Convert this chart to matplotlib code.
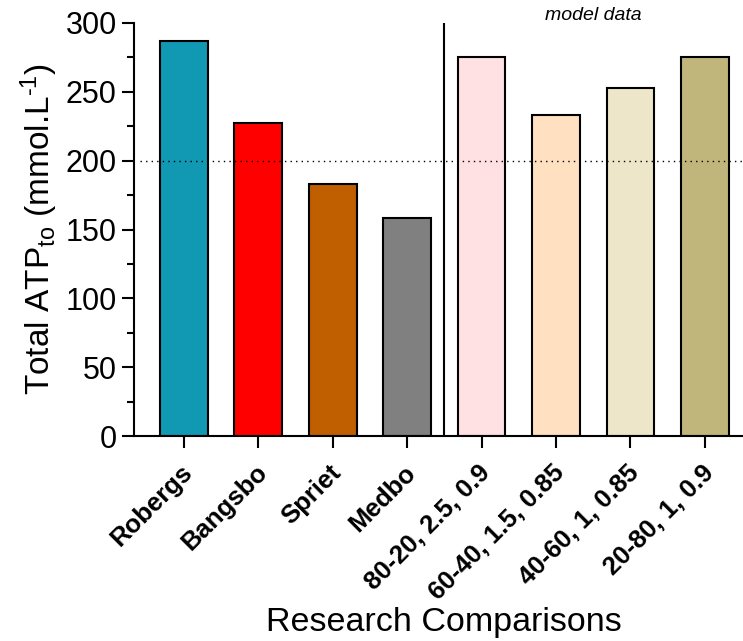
import matplotlib
matplotlib.use("Agg")
import matplotlib.pyplot as plt
from matplotlib.ticker import MultipleLocator
from matplotlib.transforms import ScaledTranslation

plt.rcParams['font.family'] = ['Liberation Sans', 'DejaVu Sans']
plt.rcParams['mathtext.fontset'] = 'custom'
plt.rcParams['mathtext.rm'] = 'Liberation Sans'
plt.rcParams['mathtext.it'] = 'Liberation Sans:italic'
plt.rcParams['mathtext.bf'] = 'Liberation Sans:bold'

categories = ["Robergs", "Bangsbo", "Spriet", "Medbo",
              "80-20, 2.5, 0.9", "60-40, 1.5, 0.85", "40-60, 1, 0.85", "20-80, 1, 0.9"]
values = [287, 227, 183, 158, 275, 233, 252.5, 275]
colors = ["#1199B4", "#FF0000", "#BF5F00", "#808080",
          "#FFE0E3", "#FFE0C0", "#EDE6C8", "#C0B67C"]
reference_level = 200
yticks = [0, 50, 100, 150, 200, 250, 300]

fig = plt.figure(figsize=(7.43, 6.41), dpi=100)
ax = fig.add_axes([134/743, 1-436/641, (742-134)/743, (436-23)/641])

x = list(range(len(categories)))
ax.bar(x, values, width=0.64, color=colors, edgecolor='black', linewidth=1.5, zorder=2)

ax.axhline(reference_level, color='black', linestyle=(0, (1, 3)), linewidth=1.0, zorder=3,
           xmin=0.01)
ax.axvline(3.5, color='black', linewidth=1.5, zorder=3)

ax.set_xlim(-0.67, 7.5)
ax.set_ylim(0, 300)
ax.set_yticks(yticks)
ax.yaxis.set_minor_locator(MultipleLocator(25))
ax.set_xticks(x)
ax.set_xticklabels([])
offset = ScaledTranslation(5/100, -33/100, fig.dpi_scale_trans)
for xi, lab in zip(x, categories):
    ax.text(xi, 0, lab, transform=ax.get_xaxis_transform() + offset,
            rotation=45, ha='right', va='center', rotation_mode='anchor',
            fontweight='bold', fontsize=18.5)

for s in ['top', 'right']:
    ax.spines[s].set_visible(False)
for s in ['left', 'bottom']:
    ax.spines[s].set_linewidth(1.5)

ax.tick_params(axis='both', which='major', length=8.5, width=1.5)
ax.tick_params(axis='y', which='major', labelsize=22, pad=4)
ax.tick_params(axis='y', which='minor', length=5, width=1.5)
ax.tick_params(axis='x', which='minor', bottom=False)

ax.set_ylabel(r"Total ATP$_{\mathrm{to}}$ (mmol.L$^{\text{-1}}$)", fontsize=24, labelpad=4)
fig.text(444/743, 1-622/641, "Research Comparisons", fontsize=24.5, ha='center', va='center')

ax.text(5.5, 1.017, "model data", transform=ax.get_xaxis_transform(),
        ha='center', va='center', fontsize=14, style='italic')

fig.savefig("out.png", dpi=100)
